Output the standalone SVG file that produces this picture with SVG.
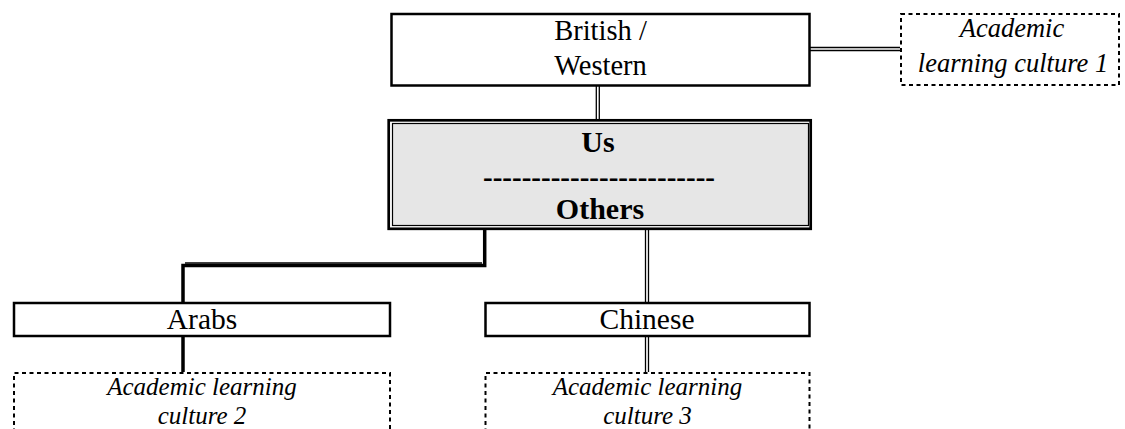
<svg xmlns="http://www.w3.org/2000/svg" width="1125" height="429" viewBox="0 0 1125 429">
<style>
.box{fill:#ffffff;stroke:#000;stroke-width:2.5}
.dash{fill:none;stroke:#000;stroke-width:2;stroke-dasharray:4,3.5}
.t{font-family:"Liberation Serif","Times New Roman",serif;font-size:28.5px;fill:#000;text-anchor:middle}
.t2{font-family:"Liberation Serif","Times New Roman",serif;font-size:29.5px;fill:#000;text-anchor:middle}
.i{font-family:"Liberation Serif","Times New Roman",serif;font-size:26.5px;font-style:italic;fill:#000;text-anchor:middle}
.i2{font-family:"Liberation Serif","Times New Roman",serif;font-size:25px;font-style:italic;fill:#000;text-anchor:middle}
.b{font-family:"Liberation Serif","Times New Roman",serif;font-size:30px;font-weight:bold;fill:#000;text-anchor:middle}
.thin{fill:none;stroke:#000;stroke-width:1.3}
.thick{fill:none;stroke:#000;stroke-width:3.5}
</style>
<rect width="1125" height="429" fill="#ffffff"/>
<g id="connectors">
  <line class="thin" x1="596.3" y1="86" x2="596.3" y2="119"/>
  <line class="thin" x1="599.3" y1="86" x2="599.3" y2="119"/>
  <line class="thin" x1="810" y1="47.5" x2="900" y2="47.5"/>
  <line class="thin" x1="810" y1="50.5" x2="900" y2="50.5"/>
  <path class="thick" d="M484.7,230 V265.5 H183 V302"/>
  <line class="thin" x1="185" y1="263" x2="482" y2="263"/>
  <line class="thin" x1="645.5" y1="230" x2="645.5" y2="302"/>
  <line class="thin" x1="648.5" y1="230" x2="648.5" y2="302"/>
  <line class="thick" x1="183" y1="337" x2="183" y2="372"/>
  <line class="thin" x1="645.5" y1="337" x2="645.5" y2="372"/>
  <line class="thin" x1="648.5" y1="337" x2="648.5" y2="372"/>
</g>
<g id="british">
  <rect class="box" x="391.5" y="14" width="418" height="71.5"/>
  <text class="t" x="600.5" y="40">British /</text>
  <text class="t" x="600.5" y="75">Western</text>
</g>
<g id="culture1">
  <rect class="dash" x="901" y="14" width="218" height="71"/>
  <text class="i" x="1012" y="37">Academic</text>
  <text class="i" x="1013" y="72">learning culture 1</text>
</g>
<g id="us-others">
  <rect x="388.7" y="120.3" width="422" height="108.5" fill="#ffffff" stroke="#000" stroke-width="2.7"/>
  <rect x="392.5" y="123.5" width="416" height="102" fill="#e6e6e6" stroke="#000" stroke-width="1.2"/>
  <text class="b" x="598" y="152">Us</text>
  <text class="b" x="599" y="187" textLength="232" lengthAdjust="spacingAndGlyphs">------------------------</text>
  <text class="b" x="600" y="219">Others</text>
</g>
<g id="arabs">
  <rect class="box" x="14" y="303" width="376" height="33"/>
  <text class="t2" x="202" y="329">Arabs</text>
</g>
<g id="chinese">
  <rect class="box" x="485.5" y="303" width="324" height="33"/>
  <text class="t2" x="647" y="329">Chinese</text>
</g>
<g id="culture2">
  <path class="dash" d="M14,440 V373 H390 V440"/>
  <text class="i2" x="202" y="395">Academic learning</text>
  <text class="i2" x="202" y="423.5">culture 2</text>
</g>
<g id="culture3">
  <path class="dash" d="M485.5,440 V373 H809.5 V440"/>
  <text class="i2" x="647.5" y="395">Academic learning</text>
  <text class="i2" x="647.5" y="423.5">culture 3</text>
</g>
</svg>
